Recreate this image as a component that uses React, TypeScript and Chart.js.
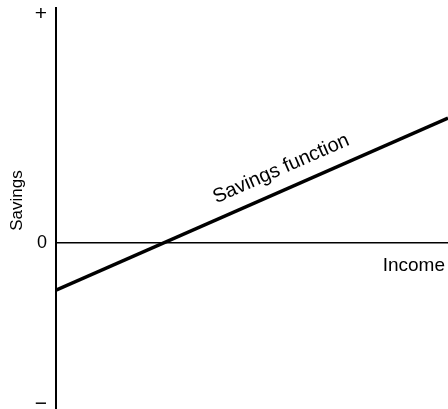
import React, { useEffect, useRef } from "react";
import { Chart, registerables } from "chart.js";

Chart.register(...registerables);

// Data
const incomeValues = [0, 10];
const savingsValues = [-2.0, 5.32];
const yTickValues = [-6.85, 0, 9.75];
const yTickLabels = ["−", "0", "+"];
const xTitle = "Income";
const yTitle = "Savings";
const lineLabel = "Savings function";
const lineLabelAt = 6.0;

const FONT = '"Liberation Sans", Arial, Helvetica, sans-serif';

const textPlugin = {
  id: "textPlugin",
  afterDraw(chart: any) {
    const { ctx, chartArea, scales } = chart;
    const xs = scales.x;
    const ys = scales.y;
    ctx.save();
    ctx.fillStyle = "#000";

    // Y tick labels
    ctx.textAlign = "right";
    ctx.textBaseline = "middle";
    yTickValues.forEach((v, i) => {
      ctx.font = yTickLabels[i] === "0" ? `18px ${FONT}` : `21px ${FONT}`;
      ctx.fillText(yTickLabels[i], chartArea.left - 9, ys.getPixelForValue(v));
    });

    // Y title
    ctx.save();
    ctx.translate(22, (chartArea.top + chartArea.bottom) / 2 - 8);
    ctx.rotate(-Math.PI / 2);
    ctx.textAlign = "center";
    ctx.textBaseline = "alphabetic";
    ctx.font = `17px ${FONT}`;
    ctx.fillText(yTitle, 0, 0);
    ctx.restore();

    // X title
    ctx.textAlign = "right";
    ctx.textBaseline = "alphabetic";
    ctx.font = `19px ${FONT}`;
    ctx.fillText(xTitle, chartArea.right - 3, ys.getPixelForValue(0) + 28);

    // Line label
    const p0x = xs.getPixelForValue(incomeValues[0]);
    const p0y = ys.getPixelForValue(savingsValues[0]);
    const p1x = xs.getPixelForValue(incomeValues[1]);
    const p1y = ys.getPixelForValue(savingsValues[1]);
    const ang = Math.atan2(p1y - p0y, p1x - p0x);
    const t = (lineLabelAt - incomeValues[0]) / (incomeValues[1] - incomeValues[0]);
    const ax = p0x + (p1x - p0x) * t;
    const ay = p0y + (p1y - p0y) * t;
    ctx.save();
    ctx.translate(ax, ay);
    ctx.rotate(ang);
    ctx.textAlign = "center";
    ctx.textBaseline = "alphabetic";
    ctx.font = `20px ${FONT}`;
    ctx.fillText(lineLabel, -2, -15);
    ctx.restore();

    ctx.restore();
  },
};

export default function App() {
  const ref = useRef<HTMLCanvasElement | null>(null);
  useEffect(() => {
    if (!ref.current) return;
    const chart = new Chart(ref.current, {
      type: "line",
      data: {
        datasets: [
          {
            data: incomeValues.map((x, i) => ({ x, y: savingsValues[i] })),
            borderColor: "#000",
            borderWidth: 3.5,
            pointRadius: 0,
            fill: false,
          },
        ],
      },
      options: {
        responsive: false,
        animation: false,
        events: [],
        layout: { padding: { top: 8, left: 0, right: 0, bottom: 0 } },
        plugins: { legend: { display: false }, tooltip: { enabled: false } },
        scales: {
          x: {
            type: "linear",
            min: 0,
            max: 10,
            display: false,
          },
          y: {
            type: "linear",
            min: -7.06,
            max: 10,
            afterFit(scale: any) {
              scale.width = 56;
            },
            afterBuildTicks(scale: any) {
              scale.ticks = [{ value: 0 }];
            },
            ticks: { display: false },
            grid: {
              drawTicks: false,
              color: (c: any) => (c.tick && c.tick.value === 0 ? "#000" : "rgba(0,0,0,0)"),
              lineWidth: 1.5,
            },
            border: { display: true, color: "#000", width: 2 },
          },
        },
      },
      plugins: [textPlugin],
    });
    return () => chart.destroy();
  }, []);
  return (
    <div style={{ position: "absolute", left: 0, top: 0, width: 448, height: 409, background: "#fff" }}>
      <canvas ref={ref} width={448} height={409} />
    </div>
  );
}
